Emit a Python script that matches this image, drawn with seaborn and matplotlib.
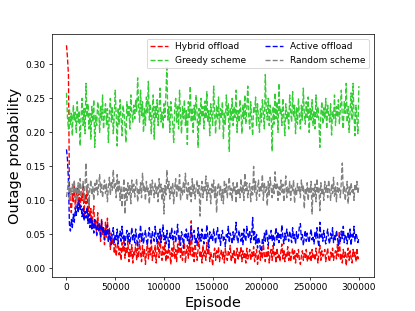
import matplotlib
matplotlib.use("Agg")
import matplotlib.pyplot as plt
import pandas as pd
import seaborn as sns

# Episodes sampled every 1000 steps
episodes = list(range(0, 300001, 1000))

hybrid_offload = [
    0.328, 0.31, 0.285, 0.12, 0.095, 0.082, 0.11, 0.098, 0.125, 0.088,
    0.105, 0.118, 0.092, 0.122, 0.085, 0.112, 0.1, 0.124, 0.078, 0.108,
    0.095, 0.118, 0.072, 0.1, 0.065, 0.088, 0.058, 0.078, 0.092, 0.06,
    0.07, 0.048, 0.082, 0.055, 0.066, 0.04, 0.072, 0.05, 0.062, 0.035,
    0.068, 0.045, 0.074, 0.038, 0.06, 0.028, 0.052, 0.035, 0.044, 0.022,
    0.036, 0.018, 0.032, 0.042, 0.02, 0.03, 0.012, 0.038, 0.024, 0.045,
    0.015, 0.03, 0.022, 0.04, 0.01, 0.028, 0.018, 0.035, 0.008, 0.026,
    0.02, 0.038, 0.012, 0.03, 0.016, 0.042, 0.022, 0.01, 0.034, 0.018,
    0.028, 0.006, 0.024, 0.036, 0.014, 0.03, 0.02, 0.045, 0.012, 0.026,
    0.018, 0.034, 0.008, 0.028, 0.04, 0.016, 0.05, 0.022, 0.012, 0.032,
    0.02, 0.038, 0.01, 0.026, 0.015, 0.035, 0.024, 0.006, 0.03, 0.018,
    0.04, 0.014, 0.028, 0.01, 0.036, 0.022, 0.048, 0.016, 0.03, 0.012,
    0.026, 0.038, 0.008, 0.024, 0.034, 0.015, 0.042, 0.02, 0.07, 0.018,
    0.03, 0.01, 0.036, 0.022, 0.012, 0.028, 0.044, 0.016, 0.026, 0.008,
    0.034, 0.018, 0.026, 0.012, 0.038, 0.02, 0.03, 0.01, 0.024, 0.016,
    0.004, 0.022, 0.03, 0.012, 0.026, 0.016, 0.032, 0.01, 0.02, 0.028,
    0.014, 0.024, 0.008, 0.03, 0.018, 0.012, 0.026, 0.02, 0.034, 0.01,
    0.022, 0.016, 0.028, 0.006, 0.02, 0.03, 0.012, 0.024, 0.018, 0.032,
    0.01, 0.026, 0.016, 0.022, 0.008, 0.03, 0.014, 0.02, 0.028, 0.012,
    0.024, 0.016, 0.032, 0.01, 0.02, 0.028, 0.006, 0.018, 0.026, 0.012,
    0.03, 0.014, 0.036, 0.02, 0.01, 0.026, 0.016, 0.032, 0.008, 0.022,
    0.028, 0.012, 0.034, 0.018, 0.024, 0.008, 0.03, 0.016, 0.022, 0.01,
    0.026, 0.036, 0.014, 0.028, 0.01, 0.022, 0.018, 0.032, 0.012, 0.024,
    0.01, 0.02, 0.03, 0.014, 0.026, 0.008, 0.022, 0.016, 0.028, 0.012,
    0.006, 0.018, 0.026, 0.012, 0.022, 0.016, 0.028, 0.01, 0.02, 0.014,
    0.024, 0.01, 0.028, 0.016, 0.02, 0.012, 0.03, 0.018, 0.008, 0.024,
    0.034, 0.012, 0.026, 0.018, 0.022, 0.028, 0.01, 0.02, 0.03, 0.014,
    0.01, 0.024, 0.016, 0.03, 0.012, 0.02, 0.026, 0.014, 0.036, 0.018,
    0.055, 0.012, 0.022, 0.008, 0.028, 0.016, 0.024, 0.004, 0.02, 0.03,
    0.012, 0.026, 0.016, 0.008, 0.028, 0.018, 0.024, 0.01, 0.03, 0.014,
    0.02,
]

active_offload = [
    0.175, 0.16, 0.13, 0.065, 0.055, 0.072, 0.06, 0.08, 0.068, 0.088,
    0.078, 0.095, 0.082, 0.1, 0.086, 0.092, 0.076, 0.088, 0.07, 0.084,
    0.074, 0.09, 0.066, 0.08, 0.06, 0.076, 0.058, 0.07, 0.052, 0.072,
    0.062, 0.05, 0.068, 0.056, 0.064, 0.045, 0.07, 0.052, 0.06, 0.042,
    0.058, 0.048, 0.064, 0.04, 0.056, 0.046, 0.035, 0.052, 0.06, 0.038,
    0.05, 0.042, 0.058, 0.036, 0.048, 0.055, 0.04, 0.062, 0.044, 0.05,
    0.034, 0.048, 0.056, 0.04, 0.052, 0.036, 0.045, 0.06, 0.042, 0.05,
    0.038, 0.058, 0.044, 0.032, 0.05, 0.046, 0.064, 0.04, 0.052, 0.036,
    0.048, 0.056, 0.042, 0.034, 0.05, 0.06, 0.044, 0.038, 0.055, 0.046,
    0.04, 0.062, 0.048, 0.036, 0.052, 0.044, 0.058, 0.038, 0.05, 0.064,
    0.042, 0.05, 0.036, 0.056, 0.046, 0.03, 0.052, 0.044, 0.06, 0.04,
    0.048, 0.055, 0.038, 0.05, 0.065, 0.042, 0.046, 0.034, 0.054, 0.048,
    0.03, 0.05, 0.044, 0.058, 0.04, 0.052, 0.036, 0.048, 0.062, 0.042,
    0.05, 0.056, 0.038, 0.046, 0.034, 0.06, 0.044, 0.05, 0.04, 0.058,
    0.046, 0.036, 0.052, 0.042, 0.064, 0.048, 0.03, 0.054, 0.044, 0.05,
    0.04, 0.058, 0.046, 0.036, 0.052, 0.06, 0.042, 0.05, 0.034, 0.048,
    0.056, 0.04, 0.046, 0.032, 0.05, 0.044, 0.062, 0.038, 0.052, 0.046,
    0.036, 0.054, 0.042, 0.05, 0.068, 0.044, 0.038, 0.056, 0.048, 0.04,
    0.052, 0.035, 0.058, 0.046, 0.04, 0.062, 0.05, 0.044, 0.056, 0.038,
    0.048, 0.075, 0.042, 0.054, 0.036, 0.05, 0.03, 0.046, 0.04, 0.028,
    0.025, 0.044, 0.036, 0.052, 0.04, 0.058, 0.046, 0.034, 0.05, 0.044,
    0.056, 0.04, 0.05, 0.034, 0.048, 0.06, 0.042, 0.054, 0.038, 0.05,
    0.044, 0.064, 0.046, 0.036, 0.052, 0.042, 0.058, 0.048, 0.04, 0.055,
    0.046, 0.038, 0.06, 0.044, 0.05, 0.036, 0.054, 0.042, 0.048, 0.062,
    0.066, 0.042, 0.05, 0.034, 0.046, 0.056, 0.04, 0.052, 0.044, 0.038,
    0.05, 0.058, 0.042, 0.048, 0.036, 0.054, 0.044, 0.06, 0.04, 0.032,
    0.068, 0.046, 0.052, 0.04, 0.056, 0.044, 0.036, 0.05, 0.058, 0.042,
    0.036, 0.052, 0.044, 0.06, 0.038, 0.05, 0.042, 0.056, 0.046, 0.034,
    0.048, 0.04, 0.055, 0.044, 0.062, 0.038, 0.05, 0.046, 0.036, 0.054,
    0.042, 0.058, 0.034, 0.05, 0.044, 0.062, 0.04, 0.052, 0.046, 0.038,
    0.046,
]

greedy_scheme = [
    0.258, 0.222, 0.205, 0.235, 0.212, 0.228, 0.195, 0.24, 0.218, 0.23,
    0.2, 0.245, 0.215, 0.232, 0.18, 0.225, 0.25, 0.21, 0.235, 0.198,
    0.272, 0.222, 0.242, 0.205, 0.228, 0.19, 0.238, 0.215, 0.248, 0.178,
    0.225, 0.21, 0.245, 0.232, 0.2, 0.238, 0.218, 0.255, 0.205, 0.228,
    0.242, 0.212, 0.235, 0.185, 0.228, 0.25, 0.215, 0.238, 0.198, 0.222,
    0.262, 0.225, 0.18, 0.236, 0.212, 0.248, 0.22, 0.195, 0.24, 0.228,
    0.21, 0.185, 0.245, 0.222, 0.238, 0.205, 0.255, 0.228, 0.215, 0.24,
    0.22, 0.248, 0.23, 0.28, 0.238, 0.215, 0.262, 0.225, 0.245, 0.2,
    0.235, 0.21, 0.252, 0.228, 0.275, 0.218, 0.242, 0.198, 0.232, 0.255,
    0.19, 0.238, 0.22, 0.248, 0.21, 0.235, 0.265, 0.215, 0.23, 0.205,
    0.242, 0.222, 0.258, 0.295, 0.218, 0.238, 0.2, 0.245, 0.228, 0.212,
    0.185, 0.235, 0.25, 0.215, 0.24, 0.205, 0.262, 0.225, 0.198, 0.238,
    0.22, 0.248, 0.21, 0.232, 0.182, 0.245, 0.222, 0.268, 0.215, 0.236,
    0.2, 0.24, 0.218, 0.255, 0.228, 0.178, 0.235, 0.212, 0.25, 0.222,
    0.238, 0.205, 0.246, 0.22, 0.26, 0.215, 0.232, 0.195, 0.242, 0.225,
    0.21, 0.268, 0.228, 0.198, 0.24, 0.218, 0.252, 0.205, 0.235, 0.222,
    0.245, 0.19, 0.23, 0.212, 0.255, 0.225, 0.242, 0.172, 0.236, 0.218,
    0.25, 0.21, 0.238, 0.222, 0.262, 0.2, 0.232, 0.215, 0.248, 0.228,
    0.198, 0.24, 0.22, 0.255, 0.212, 0.236, 0.268, 0.225, 0.205, 0.245,
    0.218, 0.195, 0.238, 0.228, 0.252, 0.21, 0.242, 0.222, 0.2, 0.235,
    0.215, 0.248, 0.228, 0.205, 0.285, 0.232, 0.218, 0.25, 0.21, 0.24,
    0.226, 0.172, 0.238, 0.212, 0.258, 0.22, 0.245, 0.2, 0.272, 0.228,
    0.235, 0.21, 0.25, 0.222, 0.195, 0.242, 0.218, 0.23, 0.205, 0.255,
    0.228, 0.215, 0.26, 0.222, 0.24, 0.198, 0.236, 0.212, 0.25, 0.225,
    0.205, 0.24, 0.218, 0.265, 0.228, 0.212, 0.245, 0.222, 0.252, 0.2,
    0.235, 0.218, 0.248, 0.21, 0.232, 0.205, 0.255, 0.222, 0.238, 0.215,
    0.178, 0.228, 0.245, 0.212, 0.236, 0.22, 0.25, 0.205, 0.24, 0.226,
    0.215, 0.242, 0.196, 0.232, 0.22, 0.255, 0.21, 0.238, 0.222, 0.248,
    0.212, 0.235, 0.262, 0.22, 0.205, 0.245, 0.228, 0.272, 0.215, 0.238,
    0.2, 0.232, 0.258, 0.218, 0.272, 0.225, 0.195, 0.24, 0.22, 0.198,
    0.268,
]

random_scheme = [
    0.105, 0.115, 0.128, 0.1, 0.118, 0.108, 0.124, 0.112, 0.13, 0.104,
    0.12, 0.098, 0.126, 0.11, 0.132, 0.105, 0.118, 0.128, 0.1, 0.122,
    0.155, 0.112, 0.124, 0.092, 0.118, 0.13, 0.108, 0.12, 0.1, 0.125,
    0.115, 0.132, 0.108, 0.122, 0.138, 0.112, 0.126, 0.104, 0.118, 0.13,
    0.11, 0.124, 0.098, 0.12, 0.134, 0.108, 0.128, 0.115, 0.145, 0.118,
    0.125, 0.104, 0.138, 0.112, 0.128, 0.1, 0.12, 0.09, 0.115, 0.132,
    0.08, 0.118, 0.1, 0.126, 0.108, 0.122, 0.095, 0.13, 0.112, 0.124,
    0.105, 0.12, 0.132, 0.098, 0.118, 0.11, 0.126, 0.104, 0.14, 0.115,
    0.122, 0.1, 0.128, 0.112, 0.118, 0.095, 0.124, 0.108, 0.13, 0.115,
    0.104, 0.126, 0.11, 0.12, 0.098, 0.132, 0.112, 0.124, 0.1, 0.118,
    0.08, 0.122, 0.108, 0.145, 0.115, 0.128, 0.102, 0.12, 0.11, 0.126,
    0.095, 0.118, 0.132, 0.104, 0.124, 0.112, 0.138, 0.1, 0.12, 0.108,
    0.128, 0.112, 0.14, 0.118, 0.1, 0.126, 0.108, 0.12, 0.098, 0.132,
    0.11, 0.124, 0.102, 0.118, 0.13, 0.108, 0.122, 0.077, 0.115, 0.128,
    0.104, 0.12, 0.112, 0.136, 0.1, 0.126, 0.11, 0.118, 0.095, 0.124,
    0.112, 0.13, 0.104, 0.12, 0.082, 0.118, 0.126, 0.108, 0.122, 0.1,
    0.116, 0.095, 0.13, 0.11, 0.124, 0.104, 0.12, 0.134, 0.108, 0.118,
    0.1, 0.126, 0.112, 0.12, 0.096, 0.128, 0.108, 0.118, 0.104, 0.132,
    0.11, 0.122, 0.1, 0.14, 0.114, 0.126, 0.104, 0.118, 0.125, 0.098,
    0.12, 0.108, 0.15, 0.112, 0.128, 0.1, 0.118, 0.13, 0.106, 0.122,
    0.114, 0.138, 0.1, 0.126, 0.112, 0.12, 0.092, 0.128, 0.108, 0.134,
    0.118, 0.104, 0.122, 0.11, 0.142, 0.115, 0.126, 0.1, 0.12, 0.108,
    0.13, 0.112, 0.124, 0.098, 0.118, 0.136, 0.104, 0.12, 0.11, 0.128,
    0.1, 0.122, 0.114, 0.13, 0.096, 0.118, 0.108, 0.125, 0.112, 0.12,
    0.104, 0.13, 0.115, 0.122, 0.088, 0.118, 0.108, 0.126, 0.1, 0.12,
    0.112, 0.128, 0.08, 0.118, 0.106, 0.124, 0.098, 0.132, 0.11, 0.12,
    0.085, 0.126, 0.108, 0.118, 0.1, 0.128, 0.112, 0.122, 0.104, 0.13,
    0.115, 0.1, 0.124, 0.11, 0.134, 0.106, 0.12, 0.098, 0.126, 0.112,
    0.118, 0.104, 0.128, 0.155, 0.11, 0.122, 0.1, 0.116, 0.128, 0.095,
    0.12, 0.108, 0.126, 0.112, 0.118, 0.1, 0.124, 0.114, 0.128, 0.11,
    0.122,
]

df = pd.DataFrame({
    "episode": episodes,
    "Hybrid offload": hybrid_offload,
    "Greedy scheme": greedy_scheme,
    "Active offload": active_offload,
    "Random scheme": random_scheme,
})

colors = {
    "Hybrid offload": "red",
    "Greedy scheme": "limegreen",
    "Active offload": "blue",
    "Random scheme": "gray",
}

fig, ax = plt.subplots(figsize=(415 / 65, 311 / 65), dpi=65)
fig.subplots_adjust(left=0.125, right=0.9, top=0.89, bottom=0.11)

for name, color in colors.items():
    sns.lineplot(x="episode", y=name, data=df, ax=ax, color=color,
                 linestyle="--", label=name)

ax.set_xlabel("Episode", fontsize=16)
ax.set_ylabel("Outage probability", fontsize=16)
ax.legend(ncol=2, loc="upper right")

fig.savefig("out.png", dpi=65)
